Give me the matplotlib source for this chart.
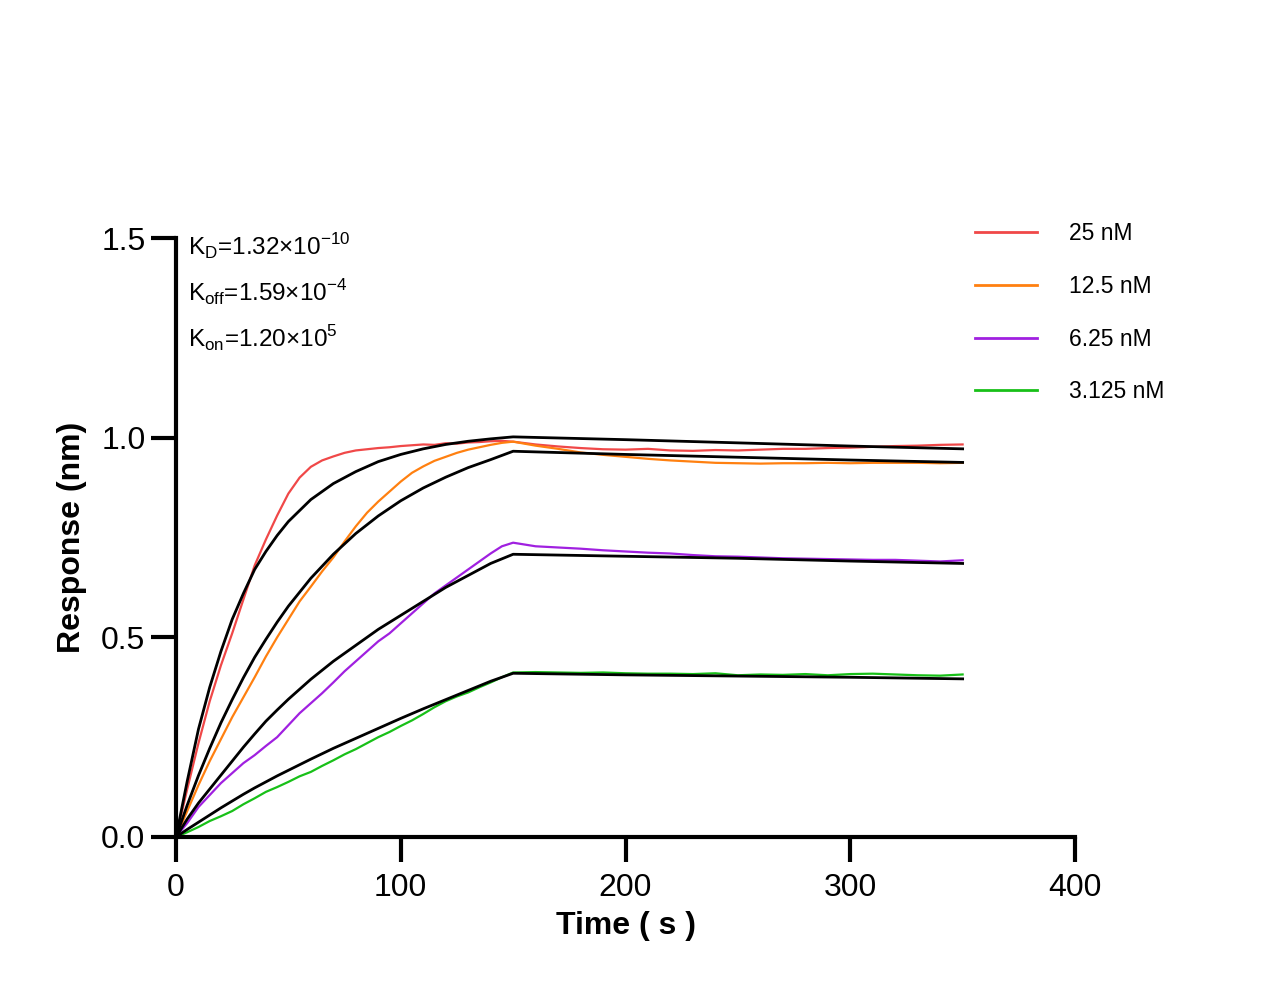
import matplotlib
matplotlib.use('Agg')
import matplotlib.pyplot as plt

plt.rcParams['font.family'] = ['Liberation Sans', 'DejaVu Sans']
plt.rcParams['mathtext.fontset'] = 'custom'
plt.rcParams['mathtext.rm'] = 'Liberation Sans'

# ---------------------------------------------------------------------------
# Data
# ---------------------------------------------------------------------------
t_data = list(range(0, 151, 5)) + list(range(160, 351, 10))
t_fit = [0, 5, 10, 15, 20, 25, 30, 35, 40, 45, 50, 60, 70, 80, 90, 100,
         110, 120, 130, 140, 150, 200, 250, 300, 350]

labels = ['25 nM', '12.5 nM', '6.25 nM', '3.125 nM']
colors = ['#f04848', '#ff8010', '#a020e0', '#18c018']

resp_25 = [0, 0.12, 0.235, 0.34, 0.43, 0.51, 0.595, 0.68, 0.745, 0.805, 0.86,
           0.90, 0.927, 0.943, 0.953, 0.962, 0.968, 0.971, 0.974, 0.976, 0.979,
           0.981, 0.983, 0.982, 0.986, 0.985, 0.988, 0.989, 0.991, 0.992, 0.990,
           0.983, 0.978, 0.974, 0.971, 0.970, 0.972, 0.968, 0.967, 0.969, 0.968,
           0.970, 0.972, 0.972, 0.974, 0.975, 0.977, 0.979, 0.980, 0.982, 0.983]
resp_12 = [0, 0.065, 0.13, 0.19, 0.245, 0.30, 0.35, 0.40, 0.452, 0.50, 0.545,
           0.59, 0.627, 0.665, 0.70, 0.74, 0.778, 0.812, 0.84, 0.865, 0.89,
           0.912, 0.928, 0.942, 0.952, 0.962, 0.970, 0.976, 0.982, 0.987, 0.990,
           0.980, 0.972, 0.963, 0.957, 0.952, 0.947, 0.943, 0.940, 0.937, 0.936,
           0.935, 0.936, 0.936, 0.937, 0.936, 0.937, 0.937, 0.937, 0.936, 0.937]
resp_6 = [0, 0.035, 0.075, 0.105, 0.135, 0.16, 0.185, 0.205, 0.228, 0.25, 0.28,
          0.31, 0.335, 0.36, 0.387, 0.415, 0.44, 0.465, 0.49, 0.51, 0.535,
          0.56, 0.585, 0.61, 0.63, 0.65, 0.67, 0.69, 0.71, 0.728, 0.737,
          0.728, 0.725, 0.722, 0.718, 0.715, 0.712, 0.710, 0.706, 0.703, 0.702,
          0.700, 0.698, 0.697, 0.696, 0.695, 0.694, 0.694, 0.692, 0.690, 0.693]
resp_3 = [0, 0.012, 0.025, 0.04, 0.052, 0.065, 0.082, 0.097, 0.113, 0.125, 0.138,
          0.152, 0.163, 0.178, 0.192, 0.207, 0.22, 0.235, 0.25, 0.263, 0.278,
          0.292, 0.308, 0.325, 0.34, 0.352, 0.362, 0.375, 0.387, 0.40, 0.412,
          0.413, 0.412, 0.411, 0.412, 0.410, 0.409, 0.409, 0.408, 0.410, 0.405,
          0.407, 0.406, 0.408, 0.405, 0.408, 0.409, 0.407, 0.405, 0.404, 0.407]

fit_25 = [0, 0.14, 0.27, 0.375, 0.465, 0.545, 0.61, 0.67, 0.715, 0.755, 0.79,
          0.845, 0.885, 0.915, 0.94, 0.958, 0.972, 0.983, 0.991, 0.997, 1.002,
          0.995, 0.987, 0.979, 0.972]
fit_12 = [0, 0.08, 0.154, 0.222, 0.286, 0.344, 0.399, 0.45, 0.495, 0.538, 0.578,
          0.648, 0.708, 0.760, 0.804, 0.842, 0.874, 0.901, 0.925, 0.945, 0.966,
          0.958, 0.951, 0.944, 0.938]
fit_6 = [0, 0.045, 0.085, 0.12, 0.155, 0.19, 0.225, 0.258, 0.29, 0.318, 0.345,
         0.395, 0.44, 0.48, 0.52, 0.555, 0.59, 0.625, 0.655, 0.685, 0.708,
         0.703, 0.698, 0.691, 0.685]
fit_3 = [0, 0.019, 0.037, 0.055, 0.073, 0.09, 0.107, 0.123, 0.138, 0.153, 0.167,
         0.195, 0.222, 0.247, 0.272, 0.297, 0.321, 0.344, 0.367, 0.39, 0.41,
         0.406, 0.403, 0.400, 0.396]

responses = [resp_25, resp_12, resp_6, resp_3]
fits = [fit_25, fit_12, fit_6, fit_3]

# ---------------------------------------------------------------------------
# Figure
# ---------------------------------------------------------------------------
fig = plt.figure(figsize=(12.81, 9.91), dpi=100)
ax = fig.add_axes([176 / 1281, 1 - 837 / 991, 899 / 1281, 599 / 991])

for resp, col, lab in zip(responses, colors, labels):
    ax.plot(t_data, resp, color=col, linewidth=1.6, label=lab, zorder=2)
for fit in fits:
    ax.plot(t_fit, fit, color='black', linewidth=2.0, zorder=3)

ax.set_xlim(0, 400)
ax.set_ylim(0, 1.5)
ax.set_xticks([0, 100, 200, 300, 400])
ax.set_yticks([0, 0.5, 1.0, 1.5])
ax.set_yticklabels(['0.0', '0.5', '1.0', '1.5'])

for side in ('top', 'right'):
    ax.spines[side].set_visible(False)
for side in ('left', 'bottom'):
    ax.spines[side].set_linewidth(3)
ax.tick_params(axis='both', which='major', length=18, width=3,
               labelsize=23, color='black')
ax.tick_params(axis='y', pad=4)
ax.tick_params(axis='x', pad=8)

ax.set_xlabel('Time ( s )', fontsize=23, fontweight='bold', labelpad=6)
ax.set_ylabel('Response (nm)', fontsize=23, fontweight='bold', labelpad=10)

# kinetic constants
fig.text(188 / 1281, 1 - 247 / 991, r'K$_\mathrm{D}$=1.32×10$^{-10}$',
         fontsize=17.5, va='center', ha='left')
fig.text(188 / 1281, 1 - 293 / 991, r'K$_\mathrm{off}$=1.59×10$^{-4}$',
         fontsize=17.5, va='center', ha='left')
fig.text(188 / 1281, 1 - 339 / 991, r'K$_\mathrm{on}$=1.20×10$^{5}$',
         fontsize=17.5, va='center', ha='left')

leg = ax.legend(loc='upper left', bbox_to_anchor=(975 / 1281, 1 - 222 / 991),
                bbox_transform=fig.transFigure, frameon=False, fontsize=16.5,
                handlelength=2.7, handletextpad=1.4, labelspacing=1.3,
                borderaxespad=0, borderpad=0)
for line in leg.get_lines():
    line.set_linewidth(2)

fig.savefig('out.png', dpi=100, facecolor='white')
